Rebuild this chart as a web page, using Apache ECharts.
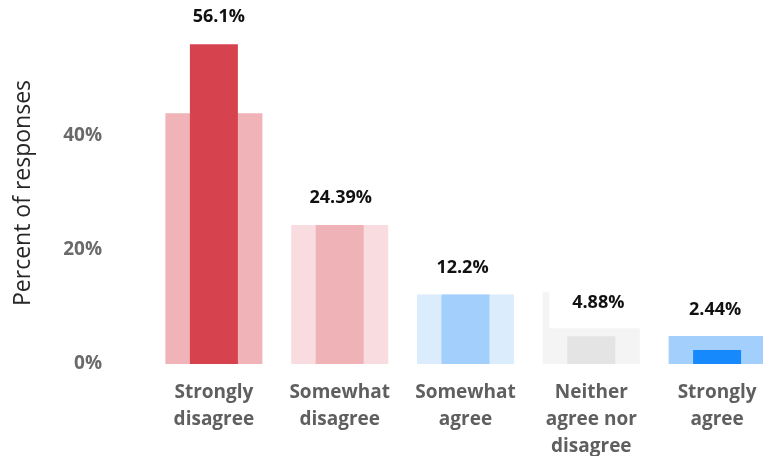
<!DOCTYPE html>
<html>
<head>
<meta charset="utf-8">
<script src="https://cdn.jsdelivr.net/npm/echarts@6/dist/echarts.min.js"></script>
<style>
  html, body { margin: 0; padding: 0; background: #fff; }
  #chart { width: 763px; height: 456px; }
</style>
</head>
<body>
<div id="chart"></div>
<script>
// Survey answers, share of responses (%)
const categories = ['Strongly\ndisagree', 'Somewhat\ndisagree', 'Somewhat\nagree', 'Neither\nagree nor\ndisagree', 'Strongly\nagree'];
const responseShare = [56.1, 24.39, 12.2, 4.88, 2.44];
const backdropShare = [44.0, 24.39, 12.2, 12.6, 4.9];
const frontColors = ['#d6434f', '#efb2b7', '#a3cffd', '#e4e4e4', '#168afc'];
const backColors = ['#efb3b8', '#f9dcdf', '#dbecfd', '#f4f4f4', '#a3cffd'];
// label nudges [dx, dy] so the value tags sit clear of the backdrop bars
const labelNudge = [[5, 0], [1, 0], [-3, 0], [7, -6], [-2, -13]];

const chart = echarts.init(document.getElementById('chart'), null, { renderer: 'canvas' });

const font = '"Open Sans", "Noto Sans", sans-serif';

const hiddenCategoryAxis = {
  type: 'category',
  data: categories,
  show: false
};

chart.setOption({
  animation: false,
  backgroundColor: '#ffffff',
  grid: { left: 151, right: -17, top: 22, bottom: 92, containLabel: false, outerBoundsMode: 'none' },
  xAxis: [
    {
      type: 'category',
      data: categories,
      axisLine: { show: false },
      axisTick: { show: false },
      axisLabel: {
        interval: 0,
        margin: 15,
        fontFamily: font,
        fontWeight: 'bold',
        fontSize: 19,
        lineHeight: 27,
        color: '#5f5f5f',
        align: 'center'
      }
    },
    hiddenCategoryAxis
  ],
  yAxis: {
    type: 'value',
    min: 0,
    max: 60,
    interval: 20,
    splitLine: { show: false },
    axisLine: { show: false },
    axisTick: { show: false },
    axisLabel: {
      margin: 49,
      fontFamily: font,
      fontWeight: 'bold',
      fontSize: 19,
      color: '#6a6a6a',
      formatter: v => (v >= 60 ? '' : v + '%')
    },
    name: 'Percent of responses',
    nameLocation: 'middle',
    nameGap: 116,
    nameTextStyle: {
      fontFamily: font,
      fontSize: 23,
      color: '#262626'
    }
  },
  series: [
    {
      type: 'bar',
      xAxisIndex: 1,
      z: 2,
      barWidth: 97,
      data: backdropShare.map((v, i) => ({ value: v, itemStyle: { color: backColors[i] } })),
      silent: true
    },
    {
      type: 'bar',
      xAxisIndex: 0,
      z: 3,
      barWidth: 48,
      data: responseShare.map((v, i) => ({
        value: v,
        itemStyle: { color: frontColors[i] },
        label: { offset: labelNudge[i] }
      })),
      label: {
        show: true,
        position: 'top',
        distance: 2,
        formatter: p => p.value + '%',
        fontFamily: font,
        fontWeight: 'bold',
        fontSize: 18,
        lineHeight: 18,
        color: '#111111',
        backgroundColor: '#ffffff',
        padding: [16, 23]
      }
    }
  ]
});
</script>
</body>
</html>
